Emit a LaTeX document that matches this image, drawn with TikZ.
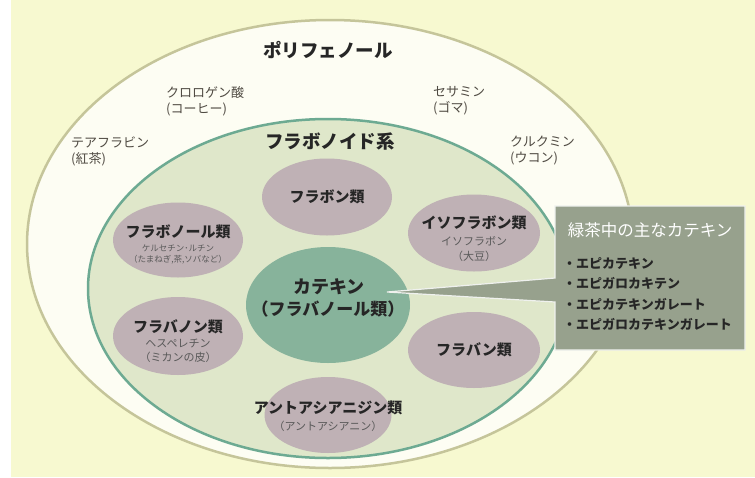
\documentclass[tikz,border=0pt]{standalone}
\usepackage{fontspec}
\usetikzlibrary{shapes.geometric}
\setmainfont{Noto Sans CJK JP}
\begin{document}
\begin{tikzpicture}[x=1pt,y=-1pt,
  sub/.style={font=\fontsize{13}{16}\selectfont, text=outtxt, align=left, anchor=west, inner sep=0pt},
  bigt/.style={font=\bfseries\fontsize{18.5}{20}\selectfont, text=black!85, inner sep=0pt},
  oval/.style={ellipse, fill=mauve, draw=none, inner sep=0pt},
  lab/.style={font=\bfseries\fontsize{15}{17}\selectfont, text=black!85, inner sep=0pt},
  smalltxt/.style={font=\fontsize{11}{13}\selectfont, text=black!65, inner sep=0pt},
  tinytxt/.style={font=\fontsize{8.5}{10}\selectfont, text=black!65, inner sep=0pt},
]
\definecolor{bgyel}{HTML}{F7F9D0}
\definecolor{outfill}{HTML}{FDFDF3}
\definecolor{outline}{HTML}{C5C59A}
\definecolor{infill}{HTML}{DFE7CA}
\definecolor{inline}{HTML}{6DAA92}
\definecolor{mauve}{HTML}{BFB1B5}
\definecolor{catg}{HTML}{87B39B}
\definecolor{callg}{HTML}{97A18D}
\definecolor{outtxt}{HTML}{4F4A42}
\useasboundingbox (0,0) rectangle (755,477);
\fill[white] (0,0) rectangle (755,477);
\fill[bgyel] (11,0) rectangle (755,477);
% outer ellipse
\draw[fill=outfill, draw=outline, line width=2.5pt] (330,244) ellipse [x radius=303, y radius=224];
% inner ellipse
\draw[fill=infill, draw=inline, line width=2.5pt] (328,288.5) ellipse [x radius=240, y radius=169.5];
% titles
\node[bigt] (poly) at (328,50) {ポリフェノール};
\node[bigt] (flav) at (330,142) {フラボノイド系};
% outer labels
\node[sub] (chl) at (166,101) {クロロゲン酸\\(コーヒー)};
\node[sub] (ses) at (433,101) {セサミン\\(ゴマ)};
\node[sub] (tea) at (71,151) {テアフラビン\\(紅茶)};
\node[sub] (cur) at (510,151) {クルクミン\\(ウコン)};
% ovals
\node[oval, minimum width=130, minimum height=77] (flavone) at (327,197) {};
\node[lab] at (flavone) {フラボン類};
\node[oval, minimum width=130, minimum height=75] (flavonol) at (178,240) {};
\node[lab] at (178,232) {フラボノール類};
\node[tinytxt] at (178,248) {ケルセチン･ルチン};
\node[tinytxt] at (178,260) {（たまねぎ,茶,ソバなど）};
\node[oval, minimum width=130, minimum height=78] (flavanone) at (178,336) {};
\node[lab] at (178,327) {フラバノン類};
\node[smalltxt] at (178,343) {ヘスペレチン};
\node[smalltxt] at (178,357) {（ミカンの皮）};
\node[oval, minimum width=127, minimum height=76] (antho) at (328,415) {};
\node[lab] at (328,408) {アントアシアニジン類};
\node[smalltxt] at (328,426) {（アントアシアニン）};
\node[oval, minimum width=132, minimum height=77] (iso) at (474,233) {};
\node[lab] at (474,223) {イソフラボン類};
\node[smalltxt] at (474,241) {イソフラボン};
\node[smalltxt] at (474,256) {（大豆）};
\node[oval, minimum width=132, minimum height=76] (flavan) at (474,350) {};
\node[lab] at (flavan) {フラバン類};
\node[ellipse, fill=catg, draw=none, minimum width=164, minimum height=116, inner sep=0pt] (cat) at (328,305) {};
\node[font=\bfseries\fontsize{18}{20}\selectfont, text=black!85, inner sep=0pt] at (329,287) {カテキン};
\node[font=\bfseries\fontsize{17}{20}\selectfont, text=black!85, inner sep=0pt] at (328,309) {（フラバノール類）};
% callout
\coordinate (tip) at (387,292);
\draw[fill=callg, draw=white!85!callg, line width=1.2pt, line join=miter]
  (555,206) -- (745,206) -- (745,350) -- (555,350) -- (555,302) -- (tip) -- (555,278) -- cycle;
\node[font=\fontsize{16.5}{19}\selectfont, text=white, inner sep=0pt] (ctitle) at (650,230) {緑茶中の主なカテキン};
\node[font=\bfseries\fontsize{13}{20.6}\selectfont, text=black!85, align=left, anchor=north west, inner sep=0pt] (clist) at (563,257)
  {・エピカテキン\\・エピガロカキテン\\・エピカテキンガレート\\・エピガロカテキンガレート};
\end{tikzpicture}
\end{document}
